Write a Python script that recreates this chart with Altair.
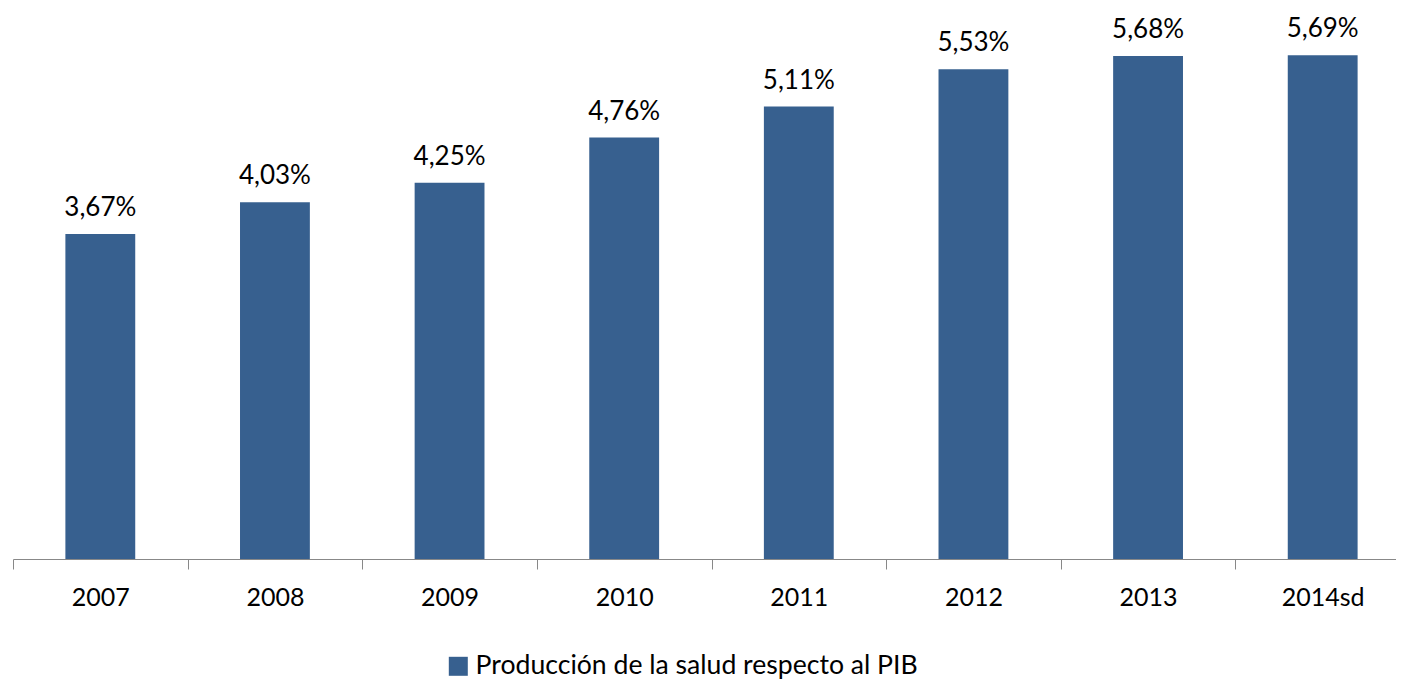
import altair as alt
import pandas as pd

years = ["2007", "2008", "2009", "2010", "2011", "2012", "2013", "2014sd"]
values = [3.67, 4.03, 4.25, 4.76, 5.11, 5.53, 5.68, 5.69]
series = "Producción de la salud respecto al PIB"

df = pd.DataFrame({"year": years, "value": values, "serie": [series] * len(years)})

FONT = "Lato"
BAR = "#37608F"

base = alt.Chart(df).encode(
    x=alt.X(
        "year:N",
        sort=years,
        title=None,
        scale=alt.Scale(paddingInner=0, paddingOuter=0, range=[0, 1397]),
        axis=alt.Axis(
            labelAngle=0,
            labelFont=FONT,
            labelFontSize=25,
            labelColor="#000000",
            labelBaseline="alphabetic",
            labelPadding=36,
            tickBand="extent",
            tickSize=10,
            tickColor="#888888",
            domainColor="#888888",
            tickWidth=1,
            domainWidth=1,
            grid=False,
        ),
    ),
)

bars = base.mark_bar(color=BAR, width=alt.RelativeBandSize(band=0.4)).encode(
    y=alt.Y("value:Q", scale=alt.Scale(domain=[0, 6.2], nice=False), axis=None),
    color=alt.Color(
        "serie:N",
        scale=alt.Scale(range=[BAR]),
        legend=alt.Legend(
            title=None,
            orient="none",
            legendX=432,
            legendY=643,
            symbolType="square",
            symbolSize=361,
            symbolStrokeWidth=0,
            symbolOpacity=1,
            labelFont=FONT,
            labelFontSize=26.6,
            labelColor="#000000",
            labelLimit=0,
            labelOffset=4,
        ),
    ),
)

labels = base.transform_calculate(
    lab="replace(format(datum.value, '.2f'), '.', ',') + '%'"
).mark_text(
    font=FONT, fontSize=26, color="#000000", baseline="alphabetic", dy=-18
).encode(
    y=alt.Y("value:Q", scale=alt.Scale(domain=[0, 6.2], nice=False), axis=None),
    text="lab:N",
)

chart = (
    alt.layer(bars, labels)
    .properties(
        width=1383,
        height=549,
        padding={"left": 5, "top": 2, "right": 0, "bottom": 124},
        autosize=alt.AutoSizeParams(type="none"),
    )
    .configure(background="#ffffff")
    .configure_view(stroke="transparent", strokeWidth=0)
)

chart.save("out.html", embed_options={"renderer": "svg", "actions": False})
